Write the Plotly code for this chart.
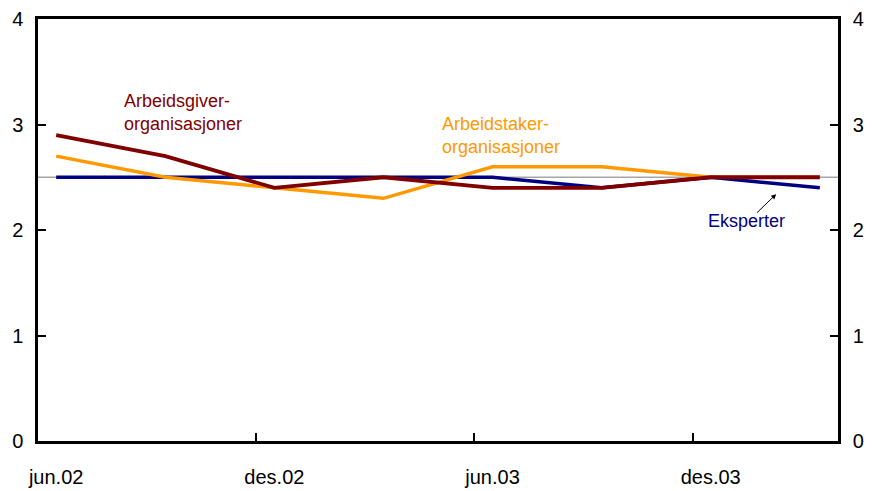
import plotly.graph_objects as go

# Data (quarterly observations)
quarters = ["jun.02", "sep.02", "des.02", "mar.03", "jun.03", "sep.03", "des.03", "mar.04"]
arbeidsgiver = [2.9, 2.7, 2.4, 2.5, 2.4, 2.4, 2.5, 2.5]
arbeidstaker = [2.7, 2.5, 2.4, 2.3, 2.6, 2.6, 2.5, 2.5]
eksperter = [2.5, 2.5, 2.5, 2.5, 2.5, 2.4, 2.5, 2.4]
reference_level = 2.5
y_ticks = [0, 1, 2, 3, 4]

x = list(range(len(quarters)))
label_pos = x[::2]
label_text = quarters[::2]
half_month = 1 / 6
boundary_ticks = [p - half_month for p in label_pos[1:]]

DARKRED = "#800000"
ORANGE = "#FF9900"
NAVY = "#000080"
FONT = "Liberation Sans, Arial, sans-serif"

fig = go.Figure()
fig.add_trace(go.Scatter(x=x, y=eksperter, mode="lines", line=dict(color=NAVY, width=3.5), showlegend=False))
fig.add_trace(go.Scatter(x=x, y=arbeidstaker, mode="lines", line=dict(color=ORANGE, width=3.5), showlegend=False))
fig.add_trace(go.Scatter(x=x, y=arbeidsgiver, mode="lines", line=dict(color=DARKRED, width=3.8), showlegend=False))
fig.add_trace(go.Scatter(x=x, y=eksperter, yaxis="y2", mode="lines", line=dict(width=0), opacity=0,
                         hoverinfo="skip", showlegend=False))

fig.add_hline(y=reference_level, line=dict(color="#A6A6A6", width=1.5), layer="below")

xr = [-half_month, len(quarters) - 1 + half_month]
# page body adds an 8px offset, so the figure is 8px smaller and left/top margins compensate
fig.update_layout(
    width=865, height=483,
    margin=dict(l=30, r=35, t=11, b=50),
    paper_bgcolor="white", plot_bgcolor="white",
    font=dict(family=FONT, size=19, color="black"),
    xaxis=dict(range=xr, tickmode="array", tickvals=label_pos, ticktext=label_text,
               ticks="", showgrid=False, zeroline=False, showline=True, linecolor="black",
               linewidth=2.5, mirror=True, ticklabelstandoff=16, automargin=False,
               tickfont=dict(size=20),
               minor=dict(tickmode="array", tickvals=boundary_ticks, ticks="inside",
                          ticklen=8, tickwidth=1.5, tickcolor="black", showgrid=False)),
    yaxis=dict(range=[0, 4], tickmode="array", tickvals=y_ticks, ticks="inside", ticklen=8,
               tickwidth=1.5, tickcolor="black", showgrid=False, zeroline=False,
               showline=True, linecolor="black", linewidth=2.5, ticklabelstandoff=8,
               automargin=False, tickfont=dict(size=20)),
    yaxis2=dict(range=[0, 4], tickmode="array", tickvals=y_ticks, ticks="inside", ticklen=8,
                tickwidth=1.5, tickcolor="black", showgrid=False, zeroline=False,
                showline=True, linecolor="black", linewidth=2.5, overlaying="y", side="right",
                ticklabelstandoff=8, automargin=False, tickfont=dict(size=20)),
)

fig.add_annotation(x=0.60, y=3.11, text="Arbeidsgiver-<br>organisasjoner", showarrow=False,
                   xanchor="left", yanchor="middle", align="left",
                   font=dict(family=FONT, size=18, color=DARKRED))
fig.add_annotation(x=3.52, y=2.90, text="Arbeidstaker-<br>organisasjoner", showarrow=False,
                   xanchor="left", yanchor="middle", align="left",
                   font=dict(family=FONT, size=18, color=ORANGE))
fig.add_annotation(x=5.96, y=2.085, text="Eksperter", showarrow=False,
                   xanchor="left", yanchor="middle", align="left",
                   font=dict(family=FONT, size=18, color=NAVY))
fig.add_annotation(x=6.6, y=2.34, ax=6.42, ay=2.16, axref="x", ayref="y", text=" ",
                   font=dict(size=1), borderpad=0,
                   showarrow=True, arrowhead=2, arrowsize=1, arrowwidth=1, arrowcolor="black")

fig.write_html("out.html")
